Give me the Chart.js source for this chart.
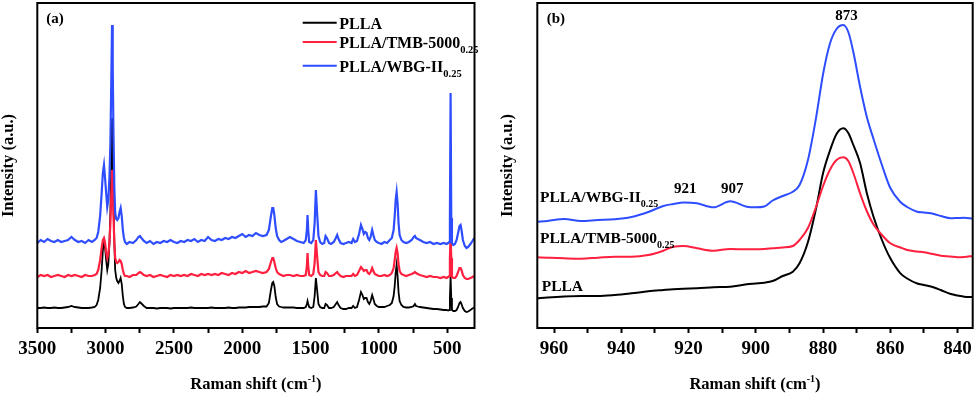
<!DOCTYPE html>
<html>
<head>
<meta charset="utf-8">
<script src="https://cdn.jsdelivr.net/npm/chart.js@4.4.0/dist/chart.umd.min.js"></script>
<style>
  body { margin: 0; background: #fff; width: 978px; height: 395px; overflow: hidden; position: relative; }
  canvas { position: absolute; top: 0; }
  #chartA { left: 0; }
  #chartB { left: 499px; }
</style>
</head>
<body>
<canvas id="chartA" width="490" height="395"></canvas>
<canvas id="chartB" width="479" height="395"></canvas>
<script>
// Series names (subscript 0.25 added when drawn)
const seriesNames = ['PLLA', 'PLLA/TMB-5000', 'PLLA/WBG-II'];
const seriesSub = ['', '0.25', '0.25'];
const seriesColors = ['#000000', '#ff1f3f', '#2e4dff'];

// Panel (a): full Raman spectra, 3500-300 cm-1 (values in a.u., stacked)
const shiftA = [
  3500,3475,3450,3425,3400,3375,3350,3325,3300,3275,3250,3225,3200,3175,3150,3125,3100,
  3080,3066,3054,3040,3029,3020,3012,3004,2996,2988,2980,2972,2965,2958,2953,2948,2942,2936,
  2930,2922,2915,2906,2898,2890,2882,2874,2866,2858,2845,2825,2800,2775,2760,2749,2738,2720,
  2700,2675,2650,2625,2600,2575,2550,2525,2500,2475,2450,2425,2400,2375,2350,2325,2300,2275,
  2250,2225,2200,2175,2150,2125,2100,2075,2050,2025,2000,1975,1950,1925,1900,1875,1850,
  1822,1805,1790,1780,1773,1765,1755,1745,1730,1715,
  1700,1675,1651,1625,1600,1575,1550,1535,1527,1522,
  1517,1510,1495,1480,1470,1461,1452,1442,1430,1415,
  1400,1390,1380,1365,1350,1330,1315,1305,1295,1280,
  1260,1240,1220,1200,1188,1175,1160,1145,1131,1120,
  1110,1100,1090,1080,1070,1060,1049,1040,1030,1015,
  1000,980,960,940,920,905,892,884,877,870,
  863,856,848,835,820,800,780,760,745,736,
  728,715,700,675,650,625,600,575,550,525,
  505,493,485,480,475,470,465,455,443,431,
  420,410,402,395,385,371,358,346,330,315,
  302
];
const pllaA = [
  20,20,20.5,20,20,20.5,20,20,20.5,21,22,21,20.5,20,20,20,20.5,
  21,23,28,40,58,78,86,80,68,58,64,85,115,170,210,180,125,85,
  58,50,47,45,47,50,44,32,24,21,20,20,20.5,21.5,24,26,24.5,22,
  20,20,20,19.5,20,20,20,19.5,20,20,20,20,20,20.5,20,20,20,20,
  20,20.5,20,20,20,20,20.5,20,20,20.5,20.5,20.5,21,21,21,21,21.5,
  21.5,25,38,45,46,42,31,24,21.5,21,
  20.5,20.5,20.5,20.5,20,20,20,21,24,27,
  24,21,20,21,32,50,38,24,21,20,
  20,24,23,20,20,21,24,26,23,20,
  19,19,20,20,22,20,21,28,36,33,
  29,30,30,26,24,27,33,29,24,22,
  21,21,21,22,23,25,32,42,55,63,
  52,36,27,23,21,20.5,20.5,21,22,24,
  22,21.5,21,20.5,20,19.5,19,19,18.5,18,
  18,17.5,18,30,51,30,18,17,17,18,
  21,25,26,24,20,17,16,16.5,18,19.5,
  20.5
];
const tmbA = [
  51,53,52,53,51,52,53,52,51,53,52,53,52,51,53,52,52,
  53,54,58,68,80,88,90,85,76,70,74,85,105,135,158,140,110,85,
  70,66,65,66,68,67,64,58,54,52,52,51,53,53,55,56,55,53,
  52,53,51,52,53,52,51,53,52,53,52,53,52,54,53,52,54,53,
  54,53,54,53,55,54,53,55,54,56,55,57,55,56,57,56,55,
  56,59,66,70,70,66,60,56,54,53,
  52,53,53,52,53,52,52,53,62,75,
  62,53,52,54,65,88,72,56,53,52,
  52,56,55,52,52,53,55,56,54,52,
  51,52,52,52,54,52,53,57,61,59,
  57,58,58,55,54,56,60,57,54,53,
  52,52,53,52,53,55,60,68,76,80,
  75,64,57,54,53,52,53,54,55,56,
  55,54,53,52,51,52,51,51,50,51,
  50,51,52,70,92,70,51,50,50,52,
  56,60,60,58,53,50,49,49,50,51,
  52
];
const wbgA = [
  85,88,86,89,87,86,88,86,87,88,91,88,86,87,85,88,86,
  88,90,96,112,135,155,163,150,135,121,128,150,185,250,303,260,190,140,
  115,109,108,110,116,120,112,98,90,86,84,86,85,88,91,92,90,87,
  85,87,84,86,85,87,86,88,86,85,87,86,88,87,89,86,88,87,
  91,88,87,89,88,90,89,91,90,92,94,91,93,92,95,93,92,
  93,98,112,120,120,113,100,92,88,86,
  87,89,91,89,87,86,85,88,98,113,
  98,86,85,88,105,138,115,92,86,84,
  85,92,90,85,84,86,90,93,89,85,
  84,85,86,85,89,86,87,94,103,99,
  94,96,95,90,88,91,98,93,88,86,
  85,84,86,85,88,90,98,112,128,136,
  125,105,93,88,86,85,86,88,91,92,
  90,89,88,86,85,86,84,85,84,85,
  84,85,86,110,235,110,85,83,84,88,
  95,102,103,98,88,82,80,81,84,87,
  90
];

// Panel (b): zoom on the 873 cm-1 band
const shiftB = [
  965,962,957,952,947,942,937,932,927.5,924.5,
  921.5,917.5,912.6,907.6,902.7,900,897.5,895,892,889,
  887,884.5,882,880,878,876,874,872.5,871,869,
  867,865,862.5,860,857,855,852,850,847,845,
  842,840,838,835.5
];
const pllaB = [
  29.7,30.5,31.5,32,32,33,34.7,36.7,38,38.8,
  39.3,39.7,40.7,41.3,43.7,44.5,45.3,47,52,56.3,
  64.7,86,121,155,177,194,199.7,195,183,165,
  135,111.3,88,69.7,54.7,49.5,44.5,43,40.5,38,
  34,32.5,31.3,31
];
const tmbB = [
  70.7,70.3,69.7,69.3,70.3,71.3,71.3,73,77.3,81.3,
  82,79.7,77.3,79,78.7,78.7,79,79.7,80.5,82,
  88,100,122,142,158,168,170.7,167,155,134.7,
  117,103.5,93,84.7,80.5,78,76.5,75.7,73.7,72.3,
  71.5,70.7,71,72
];
const wbgB = [
  106.3,107,109,107,108,108.7,111,116,122,124,
  125.5,124.7,120.7,126.7,121.3,120.7,121.5,127.5,132,136.3,
  143,168,212,254,284,299,303,296,276,241.3,
  211.3,189,163,140,126,121,116.3,115.5,114,112,
  109.7,110,110.3,109.3
];

// Tick positions and labels
const ticksA = [500, 750, 1000, 1250, 1500, 1750, 2000, 2250, 2500, 2750, 3000, 3250, 3500];
const tickLabelsA = [3500, 3000, 2500, 2000, 1500, 1000, 500];
const ticksB = [840, 850, 860, 870, 880, 890, 900, 910, 920, 930, 940, 950, 960];
const tickLabelsB = [960, 940, 920, 900, 880, 860, 840];
const peakLabelsB = [921, 907, 873];

const serif = '"Liberation Serif", "Times New Roman", serif';

function pts(xs, ys) {
  return xs.map((x, i) => ({ x: x, y: ys[i] }));
}

function makeDatasets(xs, series, widths, smooth) {
  return series.map((ys, i) => ({
    label: seriesNames[i],
    data: pts(xs, ys),
    borderColor: seriesColors[i],
    borderWidth: widths[i],
    pointRadius: 0,
    tension: smooth ? 0.4 : 0,
    cubicInterpolationMode: smooth ? 'monotone' : 'default',
    order: 3 - i
  }));
}

function textSub(ctx, x, y, main, sub, size, subSize) {
  ctx.font = 'bold ' + size + 'px ' + serif;
  ctx.fillText(main, x, y);
  if (!sub) return;
  const w = ctx.measureText(main).width;
  ctx.font = 'bold ' + subSize + 'px ' + serif;
  ctx.fillText(sub, x + w, y + 5);
}

// frame box + x title with superscript
const framePlugin = {
  id: 'frame',
  afterDatasetsDraw(chart) {
    const { ctx, chartArea: a } = chart;
    ctx.save();
    ctx.strokeStyle = '#000';
    ctx.lineWidth = 2;
    ctx.strokeRect(a.left, a.top, a.right - a.left, a.bottom - a.top);

    ctx.fillStyle = '#000';
    ctx.textBaseline = 'alphabetic';
    ctx.textAlign = 'left';
    const main = 'Raman shift (cm', sup = '-1', end = ')';
    ctx.font = 'bold 16.5px ' + serif;
    const w1 = ctx.measureText(main).width, w3 = ctx.measureText(end).width;
    ctx.font = 'bold 10px ' + serif;
    const w2 = ctx.measureText(sup).width;
    let x = (a.left + a.right) / 2 - (w1 + w2 + w3) / 2;
    const y = 389;
    ctx.font = 'bold 16.5px ' + serif;
    ctx.fillText(main, x, y);
    ctx.font = 'bold 10px ' + serif;
    ctx.fillText(sup, x + w1, y - 7);
    ctx.font = 'bold 16.5px ' + serif;
    ctx.fillText(end, x + w1 + w2, y);
    ctx.restore();
  }
};

const legendPlugin = {
  id: 'legendA',
  afterDraw(chart) {
    const { ctx, chartArea: a } = chart;
    ctx.save();
    ctx.fillStyle = '#000';
    ctx.textBaseline = 'alphabetic';
    ctx.font = 'bold 15px ' + serif;
    ctx.fillText('(a)', a.left + 9, 23);
    const rows = [22.7, 42, 65.7];
    rows.forEach((ly, i) => {
      ctx.strokeStyle = seriesColors[i];
      ctx.lineWidth = 2;
      ctx.beginPath();
      ctx.moveTo(302.7, ly);
      ctx.lineTo(336.7, ly);
      ctx.stroke();
      ctx.fillStyle = '#000';
      textSub(ctx, 339.3, ly + 6, seriesNames[i], seriesSub[i], 16, 10.5);
    });
    ctx.restore();
  }
};

const labelPlugin = {
  id: 'labelsB',
  afterDraw(chart) {
    const { ctx, chartArea: a, scales } = chart;
    ctx.save();
    ctx.fillStyle = '#000';
    ctx.textBaseline = 'alphabetic';
    ctx.font = 'bold 15px ' + serif;
    ctx.fillText('(b)', a.left + 9.4, 23);
    textSub(ctx, a.left + 2.7, 201.7, seriesNames[2], seriesSub[2], 15.5, 10);
    textSub(ctx, a.left + 2.7, 242.7, seriesNames[1], seriesSub[1], 15.5, 10);
    textSub(ctx, a.left + 4.4, 290.7, seriesNames[0], seriesSub[0], 15.5, 10);
    ctx.font = 'bold 15px ' + serif;
    ctx.textAlign = 'center';
    const ys = [193.3, 193.3, 20];
    peakLabelsB.forEach((p, i) => {
      ctx.fillText(String(p), scales.x.getPixelForValue(p), ys[i]);
    });
    ctx.restore();
  }
};

function makeOptions(xmin, xmax, tickVals, labels, yWidth, padRight) {
  return {
    responsive: false,
    animation: false,
    events: [],
    layout: { padding: { top: 3, right: padRight, left: 0, bottom: 0 } },
    plugins: { legend: { display: false }, tooltip: { enabled: false } },
    scales: {
      x: {
        type: 'linear',
        reverse: true,
        min: xmin,
        max: xmax,
        afterBuildTicks: s => { s.ticks = tickVals.map(v => ({ value: v })); },
        afterFit: s => { s.height = 67; },
        border: { display: false },
        grid: { drawOnChartArea: false, drawTicks: true, tickLength: 5, tickWidth: 2, tickColor: '#000' },
        ticks: {
          autoSkip: false,
          maxRotation: 0,
          minRotation: 0,
          padding: 5,
          color: '#000',
          font: { family: serif, size: 19, weight: 'bold' },
          callback: v => labels.includes(v) ? String(v) : ''
        }
      },
      y: {
        min: 0,
        max: 325,
        afterFit: s => { s.width = yWidth; },
        border: { display: false },
        grid: { display: false },
        ticks: { display: false },
        title: {
          display: true,
          text: 'Intensity (a.u.)',
          color: '#000',
          padding: 0,
          font: { family: serif, size: 16.5, weight: 'bold', lineHeight: 1.1 }
        }
      }
    }
  };
}

new Chart(document.getElementById('chartA'), {
  type: 'line',
  data: { datasets: makeDatasets(shiftA, [pllaA, tmbA, wbgA], [1.8, 2.2, 2.2], false) },
  options: makeOptions(300, 3500, ticksA, tickLabelsA, 37.3, 15.5),
  plugins: [framePlugin, legendPlugin]
});

new Chart(document.getElementById('chartB'), {
  type: 'line',
  data: { datasets: makeDatasets(shiftB, [pllaB, tmbB, wbgB], [2, 2, 2], true) },
  options: makeOptions(835.5, 965, ticksB, tickLabelsB, 38.3, 5.3),
  plugins: [framePlugin, labelPlugin]
});
</script>
</body>
</html>
